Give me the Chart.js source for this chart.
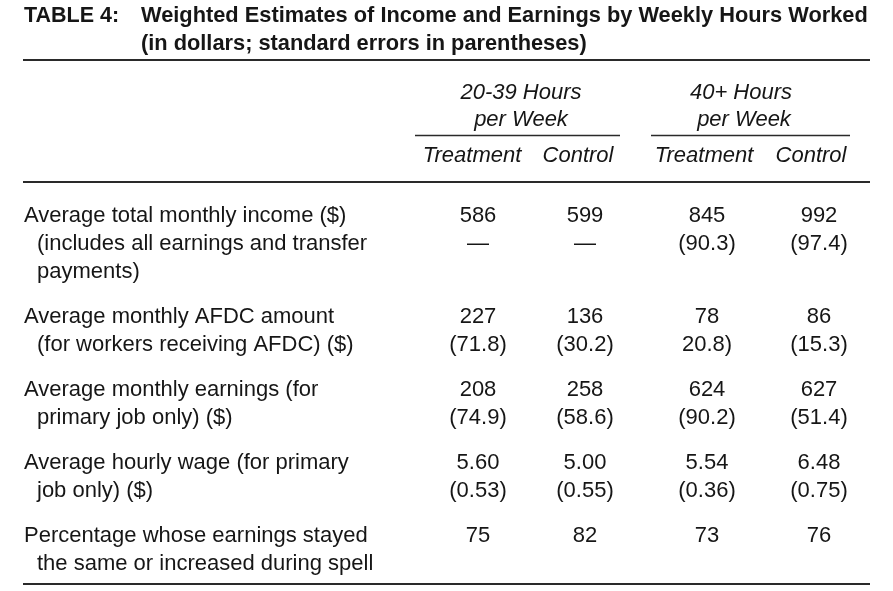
<!DOCTYPE html>
<html>
<head>
<meta charset="utf-8">
<script src="https://cdn.jsdelivr.net/npm/chart.js@4.4.0/dist/chart.umd.min.js"></script>
<style>
  html, body { margin: 0; padding: 0; background: #fff; }
  #tabela { display: block; }
</style>
</head>
<body>
<canvas id="tabela" width="893" height="591"></canvas>
<script>
// dados da tabela
const tituloTabela = 'TABLE 4:';
const tituloLinhas = [
    'Weighted Estimates of Income and Earnings by Weekly Hours Worked',
    '(in dollars; standard errors in parentheses)'
];
const grupos = [['20-39 Hours', 'per Week'], ['40+ Hours', 'per Week']];
const colunas = ['Treatment', 'Control', 'Treatment', 'Control'];
const linhas = [
    ['Average total monthly income ($)', '(includes all earnings and transfer', 'payments)'],
    ['Average monthly AFDC amount', '(for workers receiving AFDC) ($)'],
    ['Average monthly earnings (for', 'primary job only) ($)'],
    ['Average hourly wage (for primary', 'job only) ($)'],
    ['Percentage whose earnings stayed', 'the same or increased during spell']
];
const casasDecimais = [0, 0, 0, 2, 0];

const tratamento2039 = [586, 227, 208, 5.60, 75];
const controlo2039 = [599, 136, 258, 5.00, 82];
const tratamento40 = [845, 78, 624, 5.54, 73];
const controlo40 = [992, 86, 627, 6.48, 76];

const erroTratamento2039 = ['—', '(71.8)', '(74.9)', '(0.53)', ''];
const erroControlo2039 = ['—', '(30.2)', '(58.6)', '(0.55)', ''];
const erroTratamento40 = ['(90.3)', '20.8)', '(90.2)', '(0.36)', ''];
const erroControlo40 = ['(97.4)', '(15.3)', '(51.4)', '(0.75)', ''];

const valores = [tratamento2039, controlo2039, tratamento40, controlo40];
const erros = [erroTratamento2039, erroControlo2039, erroTratamento40, erroControlo40];

// posições (layout)
const centrosColunas = [478, 585, 707, 819];
const alturaLinha = 28;
const espacoLinhas = 17;
const topoLinhas = 216;

const yLinhas = [];
let yAtual = topoLinhas;
for (let l of linhas) {
    yLinhas.push(yAtual);
    yAtual += l.length * alturaLinha + espacoLinhas;
}

const fonte = '"Liberation Sans", Arial, Helvetica, sans-serif';
const corTexto = '#161616';

const datasets = valores.map((serie, c) => ({
    label: colunas[c],
    data: serie.map((v, r) => ({ x: centrosColunas[c], y: yLinhas[r], v: v })),
    pointRadius: 0,
    pointHoverRadius: 0,
    showLine: false
}));

function linha(ctx, x1, x2, y, larg) {
    ctx.beginPath();
    ctx.lineWidth = larg;
    ctx.strokeStyle = '#2a2a2a';
    ctx.moveTo(x1, y);
    ctx.lineTo(x2, y);
    ctx.stroke();
}

const desenhaTabela = {
    id: 'desenhaTabela',
    afterDatasetsDraw(chart) {
        const ctx = chart.ctx;
        const sx = chart.scales.x;
        const sy = chart.scales.y;
        ctx.save();
        ctx.fillStyle = corTexto;
        ctx.textBaseline = 'middle';

        // título
        ctx.font = 'bold 21.5px ' + fonte;
        ctx.textAlign = 'left';
        ctx.fillText(tituloTabela, sx.getPixelForValue(24), sy.getPixelForValue(16));
        ctx.font = 'bold 21.8px ' + fonte;
        ctx.fillText(tituloLinhas[0], sx.getPixelForValue(141), sy.getPixelForValue(16));
        ctx.fillText(tituloLinhas[1], sx.getPixelForValue(141), sy.getPixelForValue(44));

        linha(ctx, sx.getPixelForValue(23), sx.getPixelForValue(870), sy.getPixelForValue(60), 2);

        // cabeçalhos de grupo
        ctx.font = 'italic 22px ' + fonte;
        ctx.textAlign = 'center';
        const gruposX = [[415, 620], [651, 850]];
        const gruposCentro = [[521, 521], [741, 744]];
        grupos.forEach((g, i) => {
            ctx.fillText(g[0], sx.getPixelForValue(gruposCentro[i][0]), sy.getPixelForValue(93));
            ctx.fillText(g[1], sx.getPixelForValue(gruposCentro[i][1]), sy.getPixelForValue(120));
            linha(ctx, sx.getPixelForValue(gruposX[i][0]), sx.getPixelForValue(gruposX[i][1]), sy.getPixelForValue(135.5), 1.5);
        });
        const centrosCab = [472, 578, 704, 811];
        colunas.forEach((c, i) => {
            ctx.fillText(c, sx.getPixelForValue(centrosCab[i]), sy.getPixelForValue(156));
        });

        linha(ctx, sx.getPixelForValue(23), sx.getPixelForValue(870), sy.getPixelForValue(182), 2);

        // rótulos das linhas
        ctx.font = '22px ' + fonte;
        ctx.textAlign = 'left';
        linhas.forEach((l, r) => {
            l.forEach((t, k) => {
                const x = k === 0 ? 24 : 37;
                ctx.fillText(t, sx.getPixelForValue(x), sy.getPixelForValue(yLinhas[r] + k * alturaLinha));
            });
        });

        // células
        ctx.textAlign = 'center';
        chart.data.datasets.forEach((ds, c) => {
            const meta = chart.getDatasetMeta(c);
            meta.data.forEach((pt, r) => {
                const v = ds.data[r].v;
                ctx.fillText(v.toFixed(casasDecimais[r]), pt.x, pt.y);
                const e = erros[c][r];
                if (e) ctx.fillText(e, pt.x, pt.y + alturaLinha);
            });
        });

        linha(ctx, sx.getPixelForValue(23), sx.getPixelForValue(870), sy.getPixelForValue(584), 2);
        ctx.restore();
    }
};

const ctx = document.getElementById('tabela').getContext('2d');
const tabela = new Chart(ctx, {
    type: 'scatter',
    data: { datasets: datasets },
    options: {
        responsive: false,
        animation: false,
        devicePixelRatio: 1,
        layout: { padding: 0 },
        scales: {
            x: { type: 'linear', min: 0, max: 893, display: false },
            y: { type: 'linear', min: 0, max: 591, reverse: true, display: false }
        },
        plugins: {
            legend: { display: false },
            tooltip: { enabled: false },
            title: { display: false }
        }
    },
    plugins: [desenhaTabela]
});
</script>
</body>
</html>
